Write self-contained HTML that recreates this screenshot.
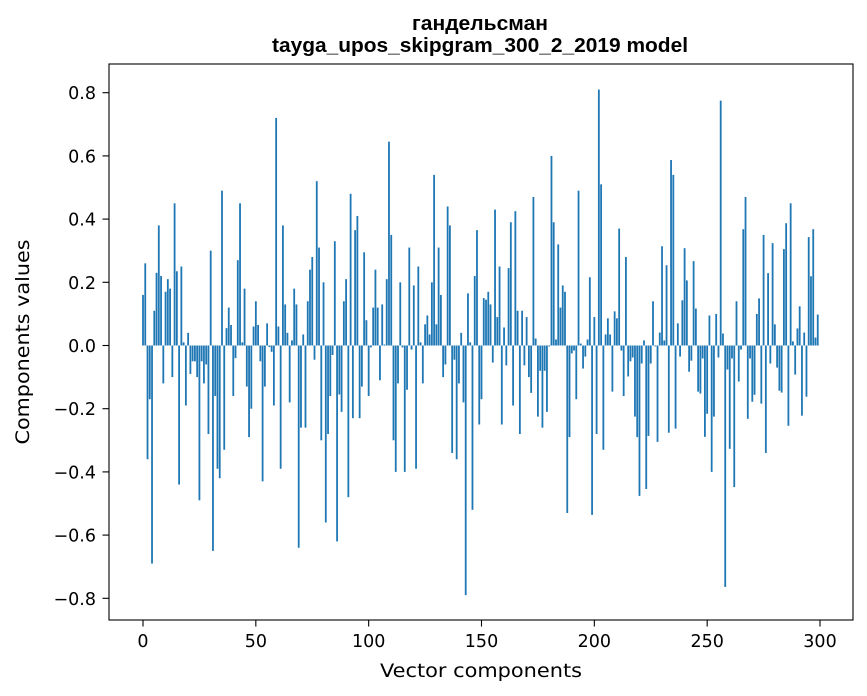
<!DOCTYPE html>
<html><head><meta charset="utf-8"><style>
body{margin:0;background:#fff;}
svg{display:block;font-family:"DejaVu Sans","Liberation Sans",sans-serif;}
</style></head><body>
<svg id="chart" width="867" height="696" viewBox="0 0 867 696" xmlns="http://www.w3.org/2000/svg">
<rect x="0" y="0" width="867" height="696" fill="#fff"/>
<text x="480" y="30" text-anchor="middle" font-family="Liberation Sans, sans-serif" font-size="20" font-weight="bold" textLength="136" lengthAdjust="spacingAndGlyphs">гандельсман</text>
<text x="480" y="52" text-anchor="middle" font-family="Liberation Sans, sans-serif" font-size="20" font-weight="bold" textLength="416" lengthAdjust="spacingAndGlyphs">tayga_upos_skipgram_300_2_2019 model</text>
<g id="bars"></g>
<rect x="109" y="64" width="744" height="556" fill="none" stroke="#000" stroke-width="1.1"/>
<g id="xticks"></g>
<g id="yticks"></g>
<text x="481" y="677" text-anchor="middle" font-size="18.8" textLength="202" lengthAdjust="spacingAndGlyphs">Vector components</text>
<text transform="translate(29,342) rotate(-90)" text-anchor="middle" font-size="18.8" textLength="205" lengthAdjust="spacingAndGlyphs">Components values</text>
</svg>
<script>
const values = [
0.16,0.26,-0.36,-0.17,-0.69,0.11,0.23,0.38,0.22,-0.12,
0.17,0.21,0.18,-0.10,0.45,0.235,-0.44,0.25,0.01,-0.19,
0.04,-0.09,-0.05,-0.05,-0.10,-0.49,-0.05,-0.12,-0.06,-0.28,
0.30,-0.65,-0.16,-0.39,-0.42,0.49,-0.33,0.055,0.12,0.065,
-0.16,-0.04,0.27,0.45,0.01,0.18,-0.13,-0.29,-0.20,0.06,
0.14,0.065,-0.05,-0.43,-0.13,0.07,-0.005,-0.02,-0.19,0.72,
0.06,-0.39,0.38,0.13,0.04,-0.18,0.016,0.18,0.13,-0.64,
-0.26,0.035,-0.26,0.14,0.24,0.28,-0.045,0.52,0.31,-0.30,
0.20,-0.56,-0.28,-0.16,-0.03,0.33,-0.62,-0.155,-0.21,0.14,
0.21,-0.48,0.48,-0.23,0.365,0.41,-0.23,-0.13,0.295,0.08,
-0.16,-0.006,0.12,0.24,0.12,-0.11,0.13,0.003,0.21,0.645,
0.35,-0.30,-0.40,-0.12,0.20,-0.006,-0.40,-0.14,0.31,-0.013,
0.19,-0.39,0.25,0.01,-0.12,0.067,0.095,0.035,0.20,0.54,
0.067,0.31,0.16,-0.10,-0.06,0.44,0.38,-0.34,-0.045,-0.36,
-0.12,0.04,-0.18,-0.79,0.165,0.01,-0.52,0.22,0.365,-0.25,
-0.17,0.15,0.145,0.17,0.13,-0.054,0.43,0.09,0.25,-0.25,
0.057,-0.063,0.245,0.39,-0.19,0.425,0.11,-0.28,0.11,-0.063,
0.09,-0.10,-0.15,0.47,0.022,-0.225,-0.08,-0.26,-0.08,-0.21,
-0.003,0.60,0.39,0.019,0.32,0.12,0.19,0.17,-0.53,-0.29,
-0.025,-0.016,-0.17,0.49,0.006,-0.073,-0.035,0.019,0.216,-0.536,
0.09,-0.28,0.81,0.51,-0.33,0.035,0.086,0.035,-0.146,0.108,
0.086,0.37,-0.016,-0.16,0.28,-0.098,-0.05,-0.038,-0.225,-0.29,
-0.476,-0.057,0.016,-0.454,-0.286,-0.057,0.14,-0.003,-0.305,0.041,
0.314,0.016,0.254,-0.276,0.587,0.54,-0.263,0.07,-0.035,0.143,
0.308,0.206,-0.083,-0.048,0.267,0.117,-0.146,-0.152,-0.041,-0.289,
-0.216,0.095,-0.40,-0.225,0.10,-0.038,0.775,0.038,-0.764,-0.076,
-0.327,-0.041,-0.448,0.14,-0.114,-0.013,0.368,0.47,-0.232,-0.041,
-0.178,-0.156,0.10,0.149,-0.184,0.35,-0.34,0.229,-0.057,0.324,
0.067,-0.07,-0.143,-0.149,0.305,0.387,-0.254,0.45,0.013,-0.092,
0.054,0.124,-0.222,0.041,-0.162,0.343,0.219,0.368,0.025,0.098
];
const xTickValues = [0,50,100,150,200,250,300];
const yTickValues = [-0.8,-0.6,-0.4,-0.2,0.0,0.2,0.4,0.6,0.8];

const NS = "http://www.w3.org/2000/svg";
function xScale(i){ return 143 + i*(677/300); }
function yScale(v){ return 345.5 - v*316; }
const bw = 0.8*(677/300);

const gb = document.getElementById('bars');
values.forEach((v,i)=>{
  const r = document.createElementNS(NS,'rect');
  const y0 = yScale(0), y1 = yScale(v);
  r.setAttribute('x', xScale(i)-bw/2);
  r.setAttribute('y', Math.min(y0,y1));
  r.setAttribute('width', bw);
  r.setAttribute('height', Math.max(Math.abs(y1-y0),0.3));
  r.setAttribute('fill','#1f77b4');
  
  
  gb.appendChild(r);
});

const gx = document.getElementById('xticks');
xTickValues.forEach(t=>{
  const x = xScale(t);
  const l = document.createElementNS(NS,'line');
  l.setAttribute('x1',x); l.setAttribute('x2',x);
  l.setAttribute('y1',620); l.setAttribute('y2',626.5);
  l.setAttribute('stroke','#000'); l.setAttribute('stroke-width','1.1');
  
  
  gx.appendChild(l);
  const tx = document.createElementNS(NS,'text');
  tx.setAttribute('x',x); tx.setAttribute('y',647);
  tx.setAttribute('text-anchor','middle'); tx.setAttribute('font-size','17.5');
  tx.textContent = String(t);
  
  
  gx.appendChild(tx);
});

const gy = document.getElementById('yticks');
yTickValues.forEach(t=>{
  const y = yScale(t);
  const l = document.createElementNS(NS,'line');
  l.setAttribute('x1',102.5); l.setAttribute('x2',109);
  l.setAttribute('y1',y); l.setAttribute('y2',y);
  l.setAttribute('stroke','#000'); l.setAttribute('stroke-width','1.1');
  
  
  gy.appendChild(l);
  const tx = document.createElementNS(NS,'text');
  tx.setAttribute('x',96); tx.setAttribute('y',y+6.5);
  tx.setAttribute('text-anchor','end'); tx.setAttribute('font-size','17.5');
  tx.textContent = (t<0?'\u2212':'') + Math.abs(t).toFixed(1);
  
  
  gy.appendChild(tx);
});
</script>
</body></html>
